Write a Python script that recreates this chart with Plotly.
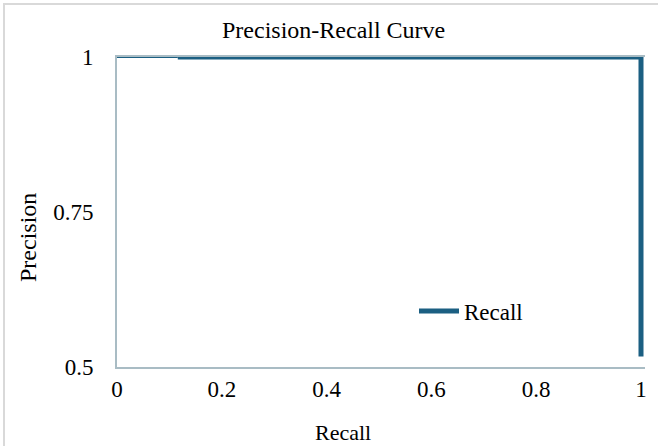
import plotly.graph_objects as go

# Precision-recall curve points
recall = [0.116, 0.3, 0.5, 0.7, 0.9, 1.0, 1.0]
precision = [1.0, 1.0, 1.0, 1.0, 1.0, 1.0, 0.517]

# Early part of the curve, drawn thin
recall_start = [0.0, 0.116]
precision_start = [1.0, 1.0]

x_ticks = [0, 0.2, 0.4, 0.6, 0.8, 1]
x_tick_text = ["0", "0.2", "0.4", "0.6", "0.8", "1"]
y_ticks = [0.5, 0.75, 1]
y_tick_text = ["0.5", "0.75", "1"]

W, H = 658, 446
L, R, T, B = 117, 645, 57, 367
X_MAX = (R - L) / 524.0
line_color = "#1b5f82"
axis_color = "#a9bcc4"
font = "Liberation Serif"


def px(x):
    return (x - L) / (R - L)


def py(y):
    return (B - y) / (B - T)


fig = go.Figure()
fig.add_trace(go.Scatter(x=recall_start, y=precision_start, mode="lines",
                         line=dict(color=line_color, width=2), showlegend=False,
                         hoverinfo="skip"))
fig.add_trace(go.Scatter(x=recall, y=precision, mode="lines", name="Recall",
                         line=dict(color=line_color, width=5)))

fig.update_layout(
    width=W, height=H,
    margin=dict(l=L, r=W - R, t=T, b=H - B),
    paper_bgcolor="white", plot_bgcolor="white",
    font=dict(family=font, size=23, color="#000000"),
    showlegend=True,
    legend=dict(x=px(414), y=py(311), xanchor="left", yanchor="middle",
                bgcolor="rgba(0,0,0,0)", font=dict(family=font, size=23),
                itemwidth=40),
    xaxis=dict(range=[0, X_MAX], tickvals=x_ticks, ticktext=x_tick_text,
               showgrid=False, zeroline=False, showline=True, mirror=True,
               linecolor=axis_color, linewidth=2, ticks="",
               ticklabelstandoff=0, tickfont=dict(family=font, size=23)),
    yaxis=dict(range=[0.5, 1.0], tickvals=y_ticks, ticktext=y_tick_text,
               showgrid=False, zeroline=False, showline=True, mirror=False,
               linecolor=axis_color, linewidth=2, ticks="",
               ticklabelstandoff=17, tickfont=dict(family=font, size=23)),
    annotations=[
        dict(text="Precision-Recall Curve", x=px(333), y=py(30),
             xref="paper", yref="paper", showarrow=False,
             xanchor="center", yanchor="middle",
             font=dict(family=font, size=24)),
        dict(text="Recall", x=px(343), y=py(432), xref="paper", yref="paper",
             xanchor="center", yanchor="middle",
             showarrow=False, font=dict(family=font, size=22)),
        dict(text="Precision", x=px(28), y=py(238), xref="paper", yref="paper",
             xanchor="center", yanchor="middle",
             showarrow=False, textangle=-90, font=dict(family=font, size=24)),
    ],
    shapes=[
        dict(type="rect", xref="paper", yref="paper",
             x0=px(4), x1=px(662), y0=py(450), y1=py(4),
             line=dict(color="#d9d9d9", width=2), layer="below"),
    ],
)

fig.write_html("out.html")
